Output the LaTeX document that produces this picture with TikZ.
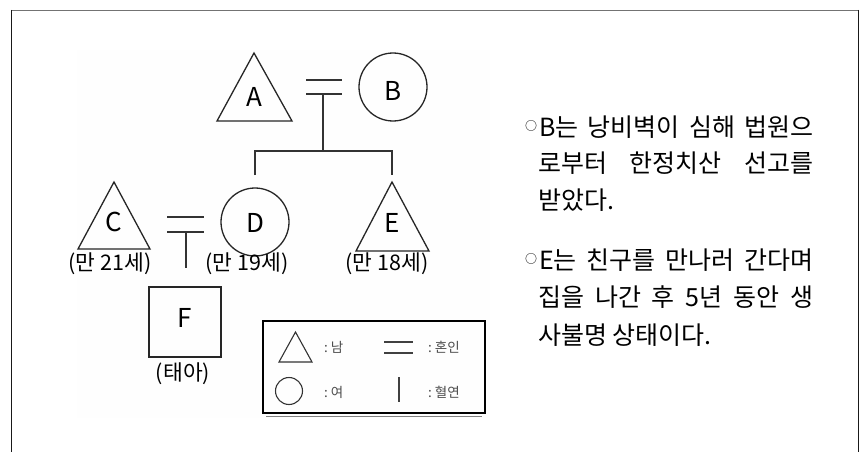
\documentclass[tikz,border=0pt]{standalone}
\usepackage{fontspec}
\setmainfont{Noto Sans CJK KR}
\newcommand{\smallcirc}{\raisebox{5.5pt}{\fontsize{12}{12}\selectfont ○}}
\begin{document}
\begin{tikzpicture}[x=1pt,y=-1pt,
  shp/.style={draw=black!85,line width=1.3pt},
  lnk/.style={draw=black!80,line width=1.6pt},
  lett/.style={font=\fontsize{26}{26}\selectfont},
  age/.style={font=\fontsize{21.5}{21.5}\selectfont},
  body/.style={anchor=west,inner sep=0pt,font=\fontsize{25}{25}\selectfont},
  leg/.style={anchor=west,inner sep=0pt,text=black!70,font=\fontsize{13.5}{13.5}\selectfont}]
\useasboundingbox (0,0) rectangle (865,452);
% frame
\draw[black!55,line width=1.2pt] (11.5,10.5) -- (858.5,10.5);
\draw[black!90,line width=1.3pt] (11.5,10) -- (11.5,452);
\draw[black!90,line width=1.3pt] (858.5,10) -- (858.5,452);
% faint image background
\fill[black!0.5] (77,50) rectangle (490,418);
% A
\coordinate (Atop) at (254,53);
\draw[shp] (Atop) -- (292,121) -- (217,121) -- cycle;
\node[lett] (A) at (254,97) {A};
% B
\node[shp,circle,minimum size=68pt,inner sep=0pt] (Bc) at (393,87) {};
\node[lett] (B) at (393,91) {B};
% marriage A-B
\coordinate (ab1) at (306,80); \coordinate (ab2) at (342,80);
\coordinate (ab3) at (306,94); \coordinate (ab4) at (342,94);
\draw[lnk] (ab1) -- (ab2);
\draw[lnk] (ab3) -- (ab4);
\coordinate (abm) at (323,94);
\coordinate (abj) at (323,151);
\coordinate (dj) at (255,151); \coordinate (ej) at (392,151);
\coordinate (dd) at (255,175); \coordinate (ed) at (392,175);
\draw[lnk] (abm) -- (abj);
\draw[lnk] (dd) -- (dj) -- (ej) -- (ed);
% D
\node[shp,circle,minimum size=68pt,inner sep=0pt] (Dc) at (255,222) {};
\node[lett] (D) at (255,223) {D};
\node[age] (Dage) at (247,264) {(만 19세)};
% E
\draw[shp] (392,182) -- (429,251) -- (356,251) -- cycle;
\node[lett] (E) at (392,223) {E};
\node[age] (Eage) at (387,264) {(만 18세)};
% C
\draw[shp] (114,182) -- (150,249) -- (78,249) -- cycle;
\node[lett] (C) at (114,222) {C};
\node[age] (Cage) at (110,264) {(만 21세)};
% marriage C-D
\coordinate (cd1) at (167,217); \coordinate (cd2) at (204,217);
\coordinate (cd3) at (167,232); \coordinate (cd4) at (204,232);
\draw[lnk] (cd1) -- (cd2);
\draw[lnk] (cd3) -- (cd4);
\coordinate (cdm) at (186,232); \coordinate (cdb) at (186,268);
\draw[lnk] (cdm) -- (cdb);
% F
\node[shp,minimum width=72pt,minimum height=70pt,inner sep=0pt] (Fs) at (185,322) {};
\node[lett] (F) at (185,318) {F};
\node[age] (Fl) at (183,374) {(태아)};
% legend
\node[draw=black,line width=1.5pt,minimum width=222pt,minimum height=92pt,inner sep=0pt] (legbox) at (374,367) {};
\draw[black!50,line width=0.6pt] (266,416.5) -- (482,416.5);
\draw[black!80,line width=1.1pt] (295.5,332) -- (312,362) -- (279,362) -- cycle;
\node[draw=black!80,line width=1.1pt,circle,minimum size=27pt,inner sep=0pt] (legc) at (289,391) {};
\coordinate (lm1) at (384,342); \coordinate (lm2) at (413,342);
\coordinate (lm3) at (384,353); \coordinate (lm4) at (413,353);
\draw[black!75,line width=1.3pt] (lm1) -- (lm2);
\draw[black!75,line width=1.3pt] (lm3) -- (lm4);
\coordinate (lv1) at (399,377); \coordinate (lv2) at (399,402);
\draw[black!75,line width=1.3pt] (lv1) -- (lv2);
\node[leg] (l1) at (324,347) {:\ 남};
\node[leg] (l2) at (428,347) {:\ 혼인};
\node[leg] (l3) at (324,392) {:\ 여};
\node[leg] (l4) at (428,392) {:\ 혈연};
% right text
\node[body] (t1) at (525,127) {\smallcirc\hspace{2pt}\hbox to 274pt{B는\hfill 낭비벽이\hfill 심해\hfill 법원으}};
\node[body] (t2) at (538,163) {\hbox to 275pt{로부터\hfill 한정치산\hfill 선고를}};
\node[body] (t3) at (538,200) {받았다.};
\node[body] (t4) at (525,260) {\smallcirc\hspace{2pt}\hbox to 274pt{E는\hfill 친구를\hfill 만나러\hfill 간다며}};
\node[body] (t5) at (538,297) {\hbox to 275pt{집을\hfill 나간\hfill 후\hfill 5년\hfill 동안\hfill 생}};
\node[body] (t6) at (538,335) {사불명 상태이다.};
\end{tikzpicture}
\end{document}
